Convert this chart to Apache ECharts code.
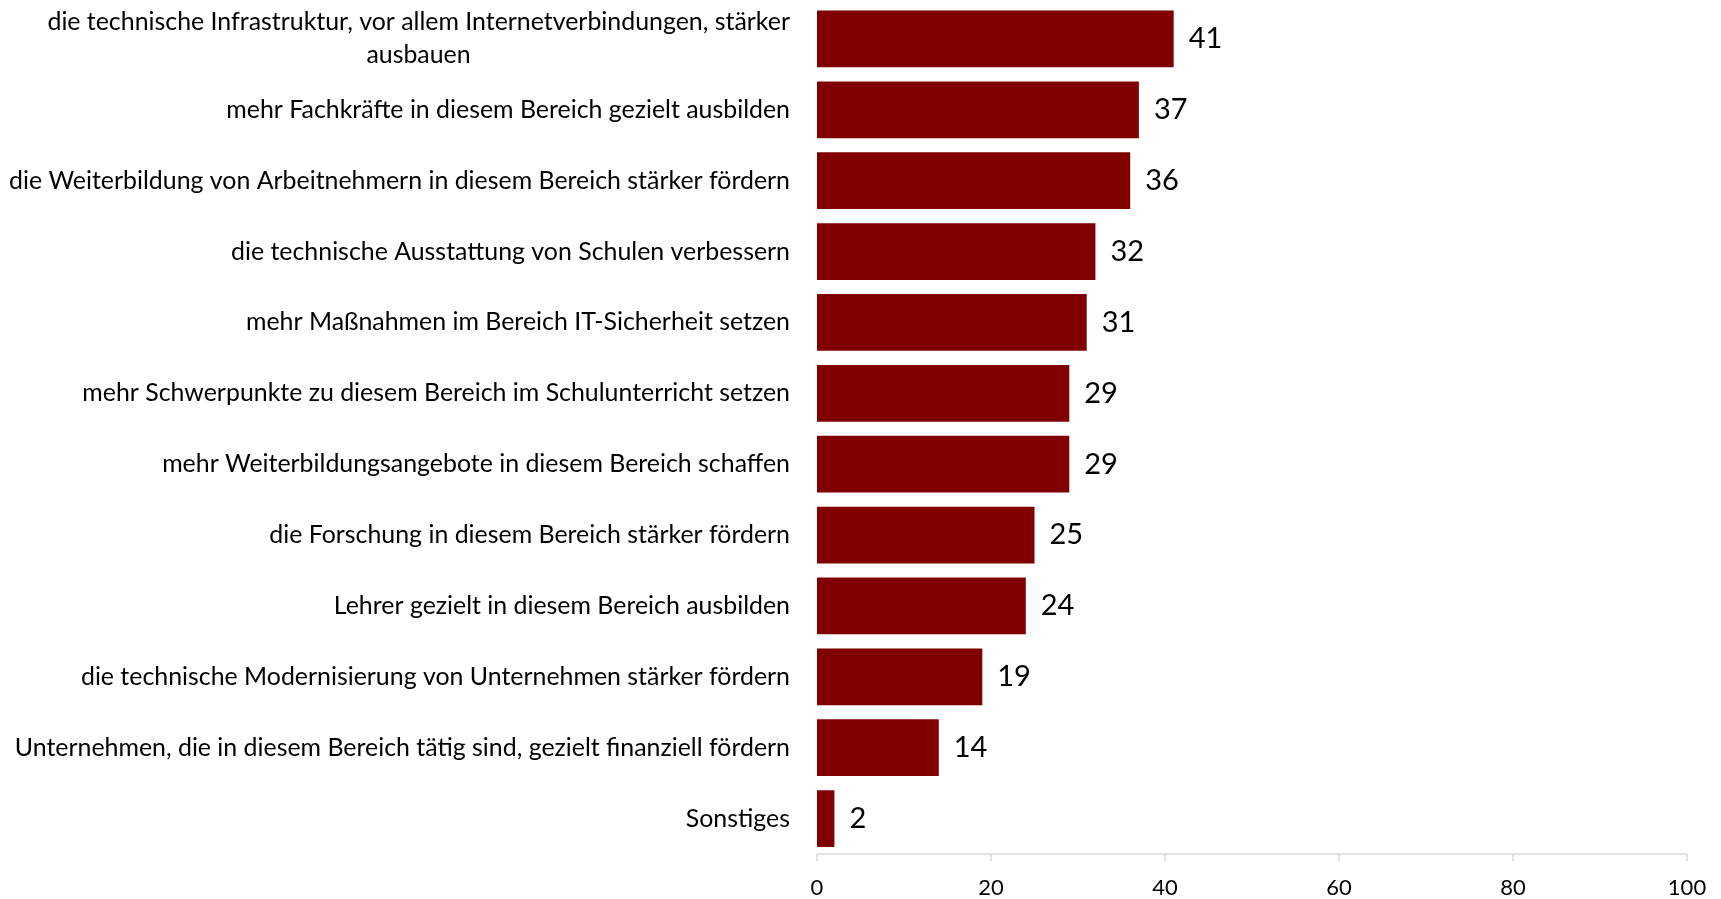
<!DOCTYPE html>
<html><head><meta charset="utf-8">
<script src="https://cdn.jsdelivr.net/npm/echarts@6/dist/echarts.min.js"></script>
<style>html,body{margin:0;padding:0;background:#fff}#c{width:1721px;height:899px}</style>
</head><body><div id="c"></div>
<script>
const categories = [
  "die technische Infrastruktur, vor allem Internetverbindungen, stärker\nausbauen",
  "mehr Fachkräfte in diesem Bereich gezielt ausbilden",
  "die Weiterbildung von Arbeitnehmern in diesem Bereich stärker fördern",
  "die technische Ausstattung von Schulen verbessern",
  "mehr Maßnahmen im Bereich IT-Sicherheit setzen",
  "mehr Schwerpunkte zu diesem Bereich im Schulunterricht setzen",
  "mehr Weiterbildungsangebote in diesem Bereich schaffen",
  "die Forschung in diesem Bereich stärker fördern",
  "Lehrer gezielt in diesem Bereich ausbilden",
  "die technische Modernisierung von Unternehmen stärker fördern",
  "Unternehmen, die in diesem Bereich tätig sind, gezielt finanziell fördern",
  "Sonstiges"
];
const values = [41, 37, 36, 32, 31, 29, 29, 25, 24, 19, 14, 2];
const xTicks = [0, 20, 40, 60, 80, 100];

const FONT = 'Lato';
const LSIZE = 24.9;
const cv = document.createElement('canvas').getContext('2d');
cv.font = LSIZE + 'px ' + FONT;
const line1W = Math.ceil(cv.measureText(categories[0].split('\n')[0]).width);

const chart = echarts.init(document.getElementById('c'));
chart.setOption({
  animation: false,
  grid: {left: 817, right: 34, top: 3.5, bottom: 45, containLabel: false},
  xAxis: {
    type: 'value', min: xTicks[0], max: xTicks[xTicks.length-1], interval: 20,
    splitLine: {show: false},
    axisLine: {show: true, lineStyle: {color: '#d9d9d9', width: 1.5}},
    axisTick: {show: true, length: 7, lineStyle: {color: '#d9d9d9', width: 1.5}},
    axisLabel: {color: '#000', fontFamily: FONT, fontSize: 22, margin: 23}
  },
  yAxis: {
    type: 'category', inverse: true, data: categories,
    axisLine: {show: false}, axisTick: {show: false},
    axisLabel: {
      color: '#000', fontFamily: FONT, fontSize: LSIZE, margin: 27, lineHeight: 33,
      formatter: function (v) {
        if (v.indexOf('\n') >= 0) {
          const p = v.split('\n');
          return '{a|' + p[0] + '}\n{b|' + p[1] + '}';
        }
        return v;
      },
      rich: {
        a: {fontFamily: FONT, fontSize: LSIZE, color: '#000', lineHeight: 33},
        b: {fontFamily: FONT, fontSize: LSIZE, color: '#000', lineHeight: 33, width: line1W, align: 'center'}
      }
    }
  },
  series: [{
    type: 'bar', data: values, barCategoryGap: '20%',
    itemStyle: {color: '#800000'},
    label: {show: true, position: 'right', distance: 15, color: '#000', fontFamily: FONT, fontSize: 29}
  }]
});
</script></body></html>
